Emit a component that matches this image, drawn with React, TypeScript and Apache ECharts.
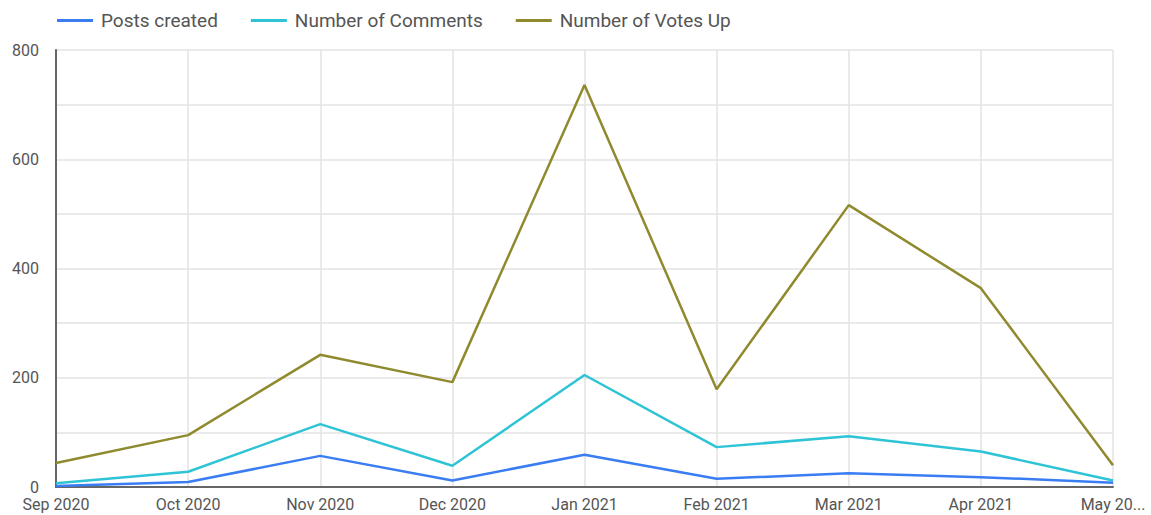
import React, { useEffect, useRef } from "react";
import * as echarts from "echarts";

const months = ["Sep 2020", "Oct 2020", "Nov 2020", "Dec 2020", "Jan 2021", "Feb 2021", "Mar 2021", "Apr 2021", "May 2021"];
const postsCreated = [2, 9, 57, 12, 59, 15, 25, 18, 8];
const numberOfComments = [7, 28, 115, 39, 205, 73, 93, 65, 12];
const numberOfVotesUp = [44, 95, 242, 192, 736, 179, 516, 364, 40];
const seriesNames = ["Posts created", "Number of Comments", "Number of Votes Up"];
const seriesColors = ["#3a7df3", "#2ec4d6", "#908a2e"];

export default function App() {
  const ref = useRef<HTMLDivElement>(null);
  useEffect(() => {
    document.body.style.margin = "0";
    const chart = echarts.init(ref.current!, null, { renderer: "svg" });
    const dataSets = [postsCreated, numberOfComments, numberOfVotesUp];
    chart.setOption({
      animation: false,
      textStyle: { fontFamily: "Roboto" },
      legend: {
        left: 52,
        top: 6,
        itemWidth: 36,
        itemHeight: 3,
        itemGap: 33,
        icon: "rect",
        textStyle: { fontSize: 19, color: "#555", fontFamily: "Roboto", padding: [0, 0, 0, 3] },
        data: seriesNames,
      },
      grid: { left: 56, right: 38, top: 50, bottom: 28, containLabel: false },
      xAxis: {
        type: "category",
        data: months,
        boundaryGap: false,
        axisLine: { show: true, lineStyle: { color: "#666", width: 2 } },
        axisTick: { show: false },
        axisLabel: {
          fontSize: 16,
          color: "#555",
          margin: 9,
          interval: 0,
          formatter: (v: string, i: number) => (i === months.length - 1 ? v.slice(0, 6) + "..." : v),
        },
        splitLine: { show: true, lineStyle: { color: "#e3e3e3", width: 1.5 } },
      },
      yAxis: {
        type: "value",
        min: 0,
        max: 800,
        interval: 100,
        axisLine: { show: true, lineStyle: { color: "#666", width: 2 } },
        axisTick: { show: false },
        axisLabel: {
          fontSize: 16,
          color: "#555",
          margin: 17,
          formatter: (v: number) => (v % 200 === 0 ? String(v) : ""),
        },
        splitLine: { show: true, lineStyle: { color: "#e3e3e3", width: 1.5 } },
      },
      series: seriesNames.map((name, i) => ({
        name,
        type: "line",
        data: dataSets[i],
        showSymbol: false,
        symbol: "none",
        lineStyle: { width: 2.5, color: seriesColors[i] },
        itemStyle: { color: seriesColors[i] },
        z: 3 - i,
      })),
    });
    return () => chart.dispose();
  }, []);
  return <div ref={ref} style={{ width: 1151, height: 515, position: "absolute", left: 0, top: 0 }} />;
}
